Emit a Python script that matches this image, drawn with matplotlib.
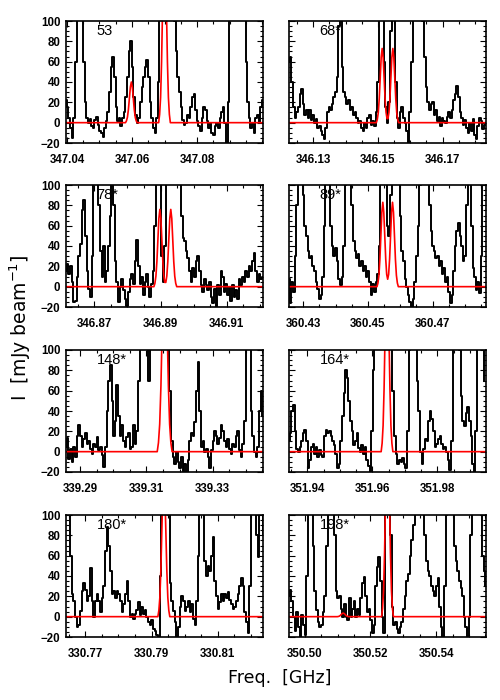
import numpy as np
import matplotlib
matplotlib.use('Agg')
import matplotlib.pyplot as plt
from matplotlib.ticker import MultipleLocator, FixedLocator

plt.rcParams['font.family'] = ['Liberation Sans', 'DejaVu Sans']

# channel width of the spectra (GHz)
chan = 0.0005

# panel labels
labels = ['53', '68*', '78*', '89*', '148*', '164*', '180*', '198*']

# frequency of first channel in each panel (GHz)
f_start = [347.0397, 346.1225, 346.8614, 360.4256, 339.2857, 351.9344, 330.7642, 350.4952]

# x ranges of each panel
x_range = [(347.0397, 347.1003), (346.1225, 346.1834), (346.8614, 346.9210), (360.4256, 360.4865),
           (339.2857, 339.3452), (351.9344, 351.9949), (330.7642, 330.8236), (350.4952, 350.5552)]

# labelled x ticks
x_ticks = [[347.04, 347.06, 347.08], [346.13, 346.15, 346.17], [346.87, 346.89, 346.91],
           [360.43, 360.45, 360.47], [339.29, 339.31, 339.33], [351.94, 351.96, 351.98],
           [330.77, 330.79, 330.81], [350.50, 350.52, 350.54]]

# observed spectra (mJy/beam), values above 100 are off the plot
spec_53 = [22, 15, 5, -5, -15, 5, 60, 150, 150, 150, 150, 60, 20, 5, 0, 4, -3, -5, 3, 6,
           -2, -8, -10, -14, -5, 2, 10, 30, 55, 65, 45, 15, 2, 5, -3, 5, 10, 25, 45, 70,
           80, 55, 25, 8, 0, 5, 20, 35, 45, 55, 62, 45, 20, 5, -5, -10, 5, 40, 110, 150,
           150, 150, 150, 150, 150, 150, 130, 100, 70, 45, 30, 15, 3, -2, 0, 8, 5, 15, 25, 28,
           12, 2, -3, -8, 5, 15, 12, 2, -5, 0, -10, -12, -3, 0, -5, 5, 10, 15, 0, -20,
           20, 110, 150, 150, 130, 150, 150, 150, 150, 150, 120, 60, 20, 5, -5, 0, -10, 5, 8, 0,
           15, 22]
spec_68 = [60, 65, 40, 15, 5, 10, 15, 28, 33, 18, 8, 12, 5, 12, 3, 8, 0, 4, -5, -3,
           -8, -12, -16, -5, 10, 15, 12, 18, 25, 30, 45, 95, 105, 55, 30, 25, 18, 22, 12, 15,
           8, 10, 5, 0, 2, -5, -8, 0, -5, 5, 8, -2, 2, -3, 10, 40, 110, 150, 130, 60,
           15, 0, 20, 90, 150, 130, 40, 5, -5, 10, 15, 5, 0, -8, -20, 10, 60, 110, 150, 150,
           150, 150, 130, 100, 65, 35, 20, 12, 18, 20, 8, 12, 2, 6, -3, 5, 2, 0, 6, 10,
           5, 12, 22, 28, 36, 25, 10, 5, -2, 3, -5, -10, 0, -8, 4, -12, -16, -3, 5, 2,
           -6, -2]
spec_78 = [15, 22, 12, 20, 5, -15, -14, 10, 30, 42, 75, 85, 50, 15, -2, -10, 30, 110, 150, 150,
           80, 35, 10, 40, 5, 15, 40, 70, 105, 80, 25, 5, -15, 0, 8, -3, -12, -19, -5, 8,
           12, 3, 25, 46, 20, 3, 10, -8, 5, 12, 0, -10, 3, 15, 60, 150, 150, 120, 30, 5,
           40, 150, 150, 150, 150, 150, 150, 150, 150, 150, 70, 48, 45, 35, 28, 15, 5, 18, 10, 25,
           30, 15, 2, -5, 8, 2, -3, 5, -10, -16, -2, -20, 2, -8, 15, 10, -5, 3, -8, 0,
           -14, 2, -10, -3, -12, 8, 2, 10, 5, 15, 10, 20, 15, 25, 33, 15, 5, 12, 8, 10]
spec_89 = [8, -16, 5, -5, 30, 80, 150, 150, 150, 90, 60, 50, 35, 28, 30, 20, 15, 5, -2, -12,
           -8, 10, 60, 120, 150, 150, 60, 40, 30, 38, 25, 8, 2, 10, 40, 100, 150, 150, 150, 80,
           45, 35, 28, 32, 20, 25, 15, 20, 10, 15, 5, -8, 3, -5, 5, 12, 40, 110, 150, 150,
           130, 60, 50, 90, 150, 150, 150, 150, 130, 70, 35, 25, 8, 0, -8, -15, -20, -12, 5, 30,
           60, 100, 150, 150, 150, 150, 120, 80, 55, 40, 35, 28, 30, 20, 25, 12, 18, 5, 10, -5,
           -16, -8, 15, 40, 55, 63, 50, 40, 25, 30, 80, 150, 150, 60, 18, 10, -3, 5, -6, 30,
           110, 150]
spec_148 = [5, 13, -7, 3, -10, 5, -5, 15, 26, 15, 5, 12, 18, 8, 10, 3, -2, 8, 5, 14,
            2, 5, -3, -15, 5, 40, 70, 85, 50, 15, 30, 66, 35, 15, 26, 10, 5, 14, 18, 3,
            5, 26, 8, 20, 70, 150, 150, 150, 150, 120, 70, 110, 150, 150, 150, 150, 150, 150, 150, 150,
            150, 150, 150, 60, 10, -5, -12, 0, -10, -16, -5, -20, -12, -22, -8, 10, 18, 15, 29, 60,
            88, 40, 5, 10, 0, 3, -5, -16, 2, 10, 20, 15, 8, 13, 26, 20, 10, 5, 12, 3,
            -2, 8, 5, 15, 20, 2, -5, 8, 30, 110, 150, 150, 40, 15, 0, -5, 5, 40, 60, 35]
spec_164 = [10, 18, 40, 46, 20, 3, 0, 5, 10, 18, 21, 10, -16, -8, 5, 8, -2, 5, -5, 2,
            -3, -5, 15, 21, 18, 20, 15, 10, 7, -2, -16, -12, 10, 35, 58, 80, 72, 50, 30, 20,
            7, 10, 18, 4, 0, 7, -2, 5, -8, -14, -20, 20, 80, 150, 150, 150, 150, 150, 150, 150,
            150, 150, 150, 120, 60, 15, -2, -12, -8, -10, -6, -12, -16, 20, 100, 150, 150, 150, 120, 70,
            40, 0, -12, 3, 12, 10, 30, 40, 32, 20, 5, 8, 12, 15, 8, 3, 5, 0, -8, -18,
            10, 120, 150, 150, 150, 100, 55, 30, 25, 38, 44, 30, 15, -12, -20, 20, 110, 150, 150, 120,
            70]
spec_180 = [150, 150, 110, 60, 22, 15, 0, -10, -8, 6, 25, 33, 26, 15, 20, 48, 15, 0, 15, 22,
            15, 5, 18, 30, 65, 88, 70, 45, 22, 25, 18, 25, 22, 15, 5, 12, 22, 35, 15, 0,
            3, -2, 3, 7, 14, 2, 10, 3, 7, 0, -5, -8, -3, -12, -14, -18, -20, 40, 150, 150,
            150, 150, 100, 33, 15, 6, -5, -20, -10, 10, 20, 15, 6, 10, 15, 5, 12, -2, -8, 15,
            60, 130, 150, 120, 55, 40, 50, 45, 60, 78, 35, 20, 8, 14, 22, 15, 22, 18, 24, 16,
            12, 8, 10, 15, 22, 30, 38, 30, 5, -5, -16, 30, 120, 150, 120, 80, 59, 150, 150, 80]
spec_198 = [20, 26, 15, 0, -14, 5, -10, -20, 2, -8, -18, 40, 150, 150, 110, 70, 25, 7, -5, -10,
            -8, 5, 20, 70, 150, 150, 150, 120, 80, 25, 18, 20, 8, 0, 12, 0, -3, 18, 0, 8,
            15, 0, 8, 2, 18, 33, 39, 20, 5, 8, -3, -16, -8, 30, 49, 59, 35, 0, -16, 120,
            150, 150, 80, 10, -8, -5, -12, -16, -10, -5, 8, 20, 35, 42, 60, 75, 90, 130, 150, 150,
            150, 150, 110, 80, 55, 45, 40, 30, 25, 20, 30, 38, 10, -10, -20, 30, 100, 150, 150, 150,
            110, 70, 55, 45, 35, 28, 20, 0, -10, -20, 0, 80, 150, 120, 140, 150, 150, 150, 60, 45,
            30]
spectra = [spec_53, spec_68, spec_78, spec_89, spec_148, spec_164, spec_180, spec_198]

# model fits (red), freq / intensity pairs around each fitted line
model_f = [
    [347.0397, 347.0580, 347.0583, 347.0586, 347.0589, 347.0592, 347.0595, 347.0598, 347.0601, 347.0604,
     347.0607, 347.0610, 347.0613, 347.0616, 347.0682, 347.0685, 347.0688, 347.0691, 347.0694, 347.0697,
     347.0700, 347.0703, 347.0706, 347.0709, 347.0712, 347.0715, 347.0718, 347.1003],
    [346.1225, 346.1495, 346.1498, 346.1501, 346.1504, 346.1507, 346.1510, 346.1513, 346.1516, 346.1519,
     346.1522, 346.1525, 346.1528, 346.1531, 346.1534, 346.1537, 346.1540, 346.1543, 346.1546, 346.1549,
     346.1552, 346.1555, 346.1558, 346.1561, 346.1564, 346.1834],
    [346.8614, 346.8880, 346.8883, 346.8886, 346.8889, 346.8892, 346.8895, 346.8898, 346.8901, 346.8904,
     346.8907, 346.8910, 346.8913, 346.8916, 346.8919, 346.8922, 346.8925, 346.8928, 346.8931, 346.8934,
     346.8937, 346.8940, 346.8943, 346.8946, 346.8949, 346.9210],
    [360.4256, 360.4528, 360.4531, 360.4534, 360.4537, 360.4540, 360.4543, 360.4546, 360.4549, 360.4552,
     360.4555, 360.4558, 360.4561, 360.4564, 360.4567, 360.4570, 360.4573, 360.4576, 360.4579, 360.4582,
     360.4585, 360.4588, 360.4591, 360.4594, 360.4865],
    [339.2857, 339.31325, 339.313625, 339.3140, 339.314375, 339.31475, 339.315125, 339.3155, 339.315875,
     339.31625, 339.316625, 339.3170, 339.317375, 339.31775, 339.3452],
    [351.9344, 351.9627, 351.9630, 351.9633, 351.9636, 351.9639, 351.9642, 351.9645, 351.9648, 351.9651,
     351.9654, 351.9657, 351.9660, 351.9663, 351.9949],
    [330.7642, 330.7919, 330.7922, 330.7925, 330.7928, 330.7931, 330.7934, 330.7937, 330.7940, 330.7943,
     330.7946, 330.7949, 330.7952, 330.7955, 330.8236],
    [350.4952, 350.5099, 350.5102, 350.5105, 350.5108, 350.5111, 350.5114, 350.5117, 350.5120, 350.5123,
     350.5126, 350.5129, 350.5132, 350.5135, 350.5234, 350.5237, 350.5240, 350.5243, 350.5246, 350.5249,
     350.5252, 350.5255, 350.5258, 350.5261, 350.5264, 350.5267, 350.5270, 350.5552],
]
model_I = [
    [0, 0, 1.8, 5.4, 13, 24, 35, 40, 35, 24, 13, 5.4, 1.8, 0,
     0, 8.1, 25, 60, 112, 163, 185, 163, 112, 60, 25, 8.1, 0, 0],
    [0, 0, 3.2, 9.9, 23.7, 44.3, 64.4, 73, 64.4, 44.3, 23.7, 10.1, 4.0, 4.0, 10.1,
     23.7, 44.3, 64.4, 73, 64.4, 44.3, 23.7, 9.9, 3.2, 0, 0],
    [0, 0, 3.3, 10.3, 24.7, 46.1, 67.1, 76, 67.1, 46.1, 24.7, 10.5, 4.2, 4.2, 10.5,
     24.7, 46.1, 67.1, 76, 67.1, 46.1, 24.7, 10.3, 3.3, 0, 0],
    [0, 0, 3.6, 11.2, 27.0, 50.3, 73.2, 83, 73.2, 50.3, 27.2, 12.1, 7.3, 12.1, 27.2,
     50.3, 73.2, 83, 73.2, 50.3, 27.0, 11.2, 3.6, 0, 0],
    [0, 0, 8.8, 27.1, 64.9, 121.3, 176.5, 200, 176.5, 121.3, 64.9, 27.1, 8.8, 0, 0],
    [0, 0, 8.3, 25.7, 61.7, 115.2, 167.7, 190, 167.7, 115.2, 61.7, 25.7, 8.3, 0, 0],
    [0, 0, 6.1, 18.9, 45.5, 84.9, 123.6, 140, 123.6, 84.9, 45.5, 18.9, 6.1, 0, 0],
    [0, 0, 0.15, 0.47, 1.1, 2.1, 3.1, 3.5, 3.1, 2.1, 1.1, 0.47, 0.15, 0,
     0, 8.3, 25.7, 61.7, 115.2, 167.7, 190, 167.7, 115.2, 61.7, 25.7, 8.3, 0, 0],
]

fig = plt.figure(figsize=(5, 7), dpi=100)

# axes positions in figure pixels (left, top)
col_left = [66, 289]
row_top = [21, 185, 350, 515]
ax_w, ax_h = 197, 122

for k in range(8):
    r, c = k // 2, k % 2
    left = col_left[c] / 500
    bottom = 1 - (row_top[r] + ax_h) / 700
    ax = fig.add_axes([left, bottom, ax_w / 500, ax_h / 700])

    y = np.array(spectra[k])
    f = f_start[k] + chan * np.arange(len(y))
    ax.plot(f, y, color='black', lw=1.4, drawstyle='steps-mid')
    ax.plot(model_f[k], model_I[k], color='red', lw=1.2)

    ax.set_xlim(*x_range[k])
    ax.set_ylim(-20, 100)
    ax.xaxis.set_major_locator(FixedLocator(x_ticks[k]))
    ax.set_xticklabels(['%.2f' % t for t in x_ticks[k]])
    ax.xaxis.set_minor_locator(MultipleLocator(0.005))
    ax.yaxis.set_major_locator(MultipleLocator(20))
    ax.yaxis.set_minor_locator(MultipleLocator(5))
    ax.tick_params(which='both', direction='in', top=True, right=True, width=0.8)
    ax.tick_params(which='major', length=4, labelsize=8.3)
    ax.tick_params(which='minor', length=2)
    ax.tick_params(axis='x', which='major', pad=8)
    ax.tick_params(axis='y', which='major', pad=4)
    for lab in ax.get_xticklabels() + ax.get_yticklabels():
        lab.set_fontweight('bold')
    if c == 1:
        ax.set_yticklabels([])
    for s in ax.spines.values():
        s.set_linewidth(1.2)

    ax.text(0.155, 0.975, labels[k], transform=ax.transAxes, fontsize=10.5,
            va='top', ha='left')

fig.text(0.04, 1 - 328 / 700, r'I  [mJy beam$^{-1}$]', rotation=90, fontsize=13.5,
         ha='center', va='center', family='DejaVu Sans')
fig.text(0.56, 1 - 678 / 700, 'Freq.  [GHz]', fontsize=12.5, ha='center', va='center',
         family='DejaVu Sans')

fig.savefig('out.png', dpi=100)
